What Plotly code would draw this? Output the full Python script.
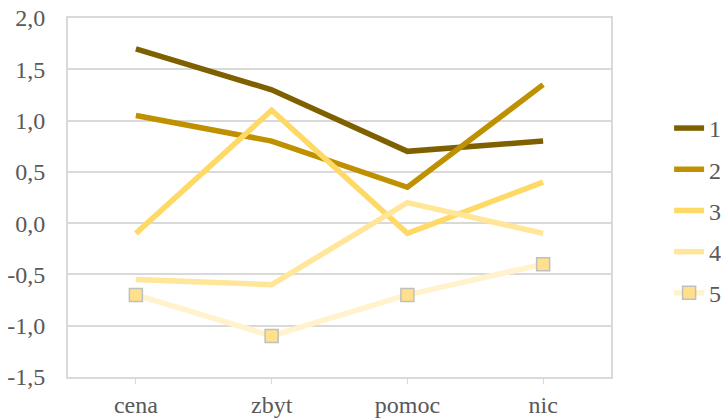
import plotly.graph_objects as go

categories = ["cena", "zbyt", "pomoc", "nic"]
series_names = ["1", "2", "3", "4", "5"]
s1 = [1.7, 1.3, 0.7, 0.8]
s2 = [1.05, 0.8, 0.35, 1.35]
s3 = [-0.1, 1.1, -0.1, 0.4]
s4 = [-0.55, -0.6, 0.2, -0.1]
s5 = [-0.7, -1.1, -0.7, -0.4]
y_ticks = [-1.5, -1.0, -0.5, 0.0, 0.5, 1.0, 1.5, 2.0]
y_tick_labels = ["-1,5", "-1,0", "-0,5", "0,0", "0,5", "1,0", "1,5", "2,0"]

colors = ["#7F6000", "#BF9000", "#FFD966", "#FFE699", "#FFF2CC"]
all_series = [s1, s2, s3, s4, s5]

fig = go.Figure()
for i, (name, vals) in enumerate(zip(series_names, all_series)):
    if i == 4:
        fig.add_trace(go.Scatter(
            x=categories, y=vals, name=name, mode="lines+markers",
            line=dict(color=colors[i], width=5.5),
            marker=dict(symbol="square", size=13, color="#FFE08C",
                        line=dict(color="#BFBFBF", width=1.5)),
            legendgroup=name,
        ))
    else:
        fig.add_trace(go.Scatter(
            x=categories, y=vals, name=name, mode="lines",
            line=dict(color=colors[i], width=5.5),
            legendgroup=name,
        ))

font_family = "Liberation Serif"
fs = 24
fig.update_layout(
    width=721, height=419,
    margin=dict(l=68, r=110, t=18, b=42, autoexpand=False),
    paper_bgcolor="white", plot_bgcolor="white",
    font=dict(family=font_family, size=fs, color="#595959"),
    showlegend=True,
    legend=dict(x=1.107, y=0.755, xanchor="left", yanchor="top",
                font=dict(family=font_family, size=fs, color="#595959"),
                tracegroupgap=7, bgcolor="rgba(0,0,0,0)"),
    xaxis=dict(range=[-0.5, 3.5], showgrid=False, showline=True,
               linecolor="#D9D9D9", linewidth=2, mirror=True,
               ticks="outside", ticklen=5, tickcolor="#D9D9D9",
               automargin=False,
               tickfont=dict(family=font_family, size=fs, color="#595959")),
    yaxis=dict(range=[-1.5, 2.0], tickvals=y_ticks, ticktext=y_tick_labels,
               showgrid=True, gridcolor="#D9D9D9", gridwidth=1.5,
               showline=True, linecolor="#D9D9D9", linewidth=2, mirror=True,
               zeroline=False, ticks="", ticklabelstandoff=16,
               automargin=False,
               tickfont=dict(family=font_family, size=fs, color="#595959")),
)

fig.write_html("out.html")
